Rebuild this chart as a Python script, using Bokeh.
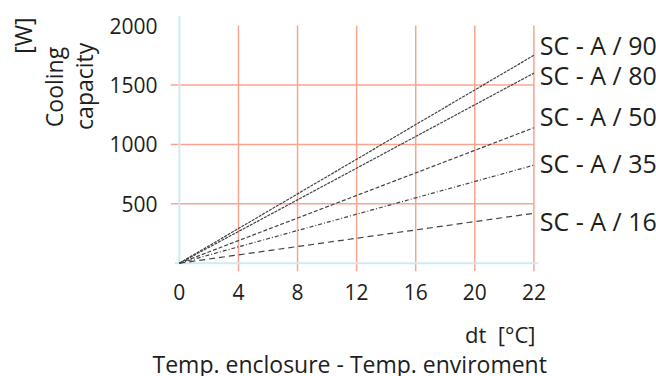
import numpy as np
from bokeh.plotting import figure
from bokeh.layouts import row
from bokeh.models import Range1d, FixedTicker, Title, ColumnDataSource
from bokeh.core.properties import value
from bokeh.embed import file_html
from bokeh.resources import INLINE

# ---- data ----
series_names = ["SC - A / 900", "SC - A / 800", "SC - A / 500", "SC - A / 350", "SC - A / 160"]
dt_values = [0, 22]
capacity_at_0 = [0, 0, 0, 0, 0]
capacity_at_22 = [1750, 1600, 1140, 825, 420]
x_tick_values = [0, 4, 8, 12, 16, 20, 22]
x_tick_labels = ["0", "4", "8", "12", "16", "20", "22"]
y_tick_values = [500, 1000, 1500, 2000]
y_tick_labels = ["500", "1000", "1500", "2000"]

# drawn spacing of the x scale (the 22 tick sits one full step after 20)
x_tick_pos = [0, 4, 8, 12, 16, 20, 24]

FONT = "Open Sans"
TXT = "#1e1e1e"
GRID = "#f8a590"
AXIS = "#cfeaf4"
LINE = "#444444"
dashes = ["3 1", "3 1", "4 2", "4 2 1 2", "6 4"]
label_offsets = [-10, 2, -12, -2, 8]

LEFT_W = 100
H = 376

# ---- left strip with the rotated y-axis title texts ----
side = figure(width=LEFT_W, height=H, output_backend="svg", toolbar_location=None,
              x_range=Range1d(0, LEFT_W), y_range=Range1d(0, H),
              x_axis_type=None, y_axis_type=None,
              min_border_left=0, min_border_right=0, min_border_top=0, min_border_bottom=0)
side.outline_line_color = None
side.grid.visible = False
side.border_fill_color = "white"
side_src = ColumnDataSource(dict(x=[53, 83, 22.5], y=[H - 105, H - 104, H - 29.5],
                                 text=["Cooling", "capacity", "[W]"]))
side.text(x="x", y="y", text="text", source=side_src, angle=np.pi / 2,
          text_font=value(FONT), text_font_size="23px", text_color=TXT,
          text_align="center", text_baseline="middle")

# ---- main chart ----
x0, x1 = -0.6, 32.3
y0, y1 = -70, 2085

p = figure(width=656 - LEFT_W, height=H, output_backend="svg", toolbar_location=None,
           x_range=Range1d(x0, x1), y_range=Range1d(y0, y1),
           min_border_left=170 - LEFT_W, min_border_right=0, min_border_top=15,
           min_border_bottom=105)
p.outline_line_color = None
p.grid.visible = False
p.background_fill_color = "white"
p.border_fill_color = "white"

# gridlines
p.segment(x0=x_tick_pos[1:], x1=x_tick_pos[1:], y0=[y0] * (len(x_tick_pos) - 1),
          y1=[y_tick_values[-1]] * (len(x_tick_pos) - 1), line_color=GRID, line_width=1.5)
p.segment(x0=[x0] * (len(y_tick_values) - 1), x1=[x_tick_pos[-1]] * (len(y_tick_values) - 1),
          y0=y_tick_values[:-1], y1=y_tick_values[:-1], line_color=GRID, line_width=1.5)

# axis lines
p.segment(x0=[0], x1=[0], y0=[0], y1=[y1], line_color=AXIS, line_width=2)
p.segment(x0=[-0.3], x1=[x_tick_pos[-1] + 0.3], y0=[0], y1=[0], line_color=AXIS, line_width=2)

# series
xs = np.interp(dt_values, x_tick_values, x_tick_pos)
for name, c0, c1, d in zip(series_names, capacity_at_0, capacity_at_22, dashes):
    p.line(x=xs, y=[c0, c1], line_color=LINE, line_width=1.2, line_dash=d)

src = ColumnDataSource(dict(x=[xs[-1] + 0.4] * len(series_names), y=capacity_at_22,
                            text=series_names, yo=label_offsets))
p.text(x="x", y="y", text="text", y_offset="yo", source=src, text_font=value(FONT),
       text_font_size="25px", text_baseline="middle", text_align="left", text_color=TXT)

# axes
p.xaxis.ticker = FixedTicker(ticks=x_tick_pos)
p.xaxis.major_label_overrides = {pos: lab for pos, lab in zip(x_tick_pos, x_tick_labels)}
p.yaxis.ticker = FixedTicker(ticks=y_tick_values)
p.yaxis.major_label_overrides = {v: lab for v, lab in zip(y_tick_values, y_tick_labels)}
for ax in (p.xaxis, p.yaxis):
    ax.axis_line_color = None
    ax.major_tick_line_color = None
    ax.minor_tick_line_color = None
    ax.major_tick_out = 0
    ax.major_tick_in = 0
    ax.major_label_text_font = FONT
    ax.major_label_text_font_size = "21px"
    ax.major_label_text_color = TXT
p.xaxis.major_label_standoff = 12
p.yaxis.major_label_standoff = 13

def title(text, place, **kw):
    t = Title(text=text, text_font=FONT, text_color=TXT, text_font_style="normal", **kw)
    p.add_layout(t, place)

title("dt\u00a0\u00a0[°C]", "below", align="right", offset=121, text_font_size="22px",
      standoff=28)
title("Temp. enclosure - Temp. enviroment", "below", align="left", offset=-18,
      text_font_size="23px", standoff=-33)

layout = row(side, p, spacing=0)
open("out.html", "w").write(file_html(layout, INLINE))
